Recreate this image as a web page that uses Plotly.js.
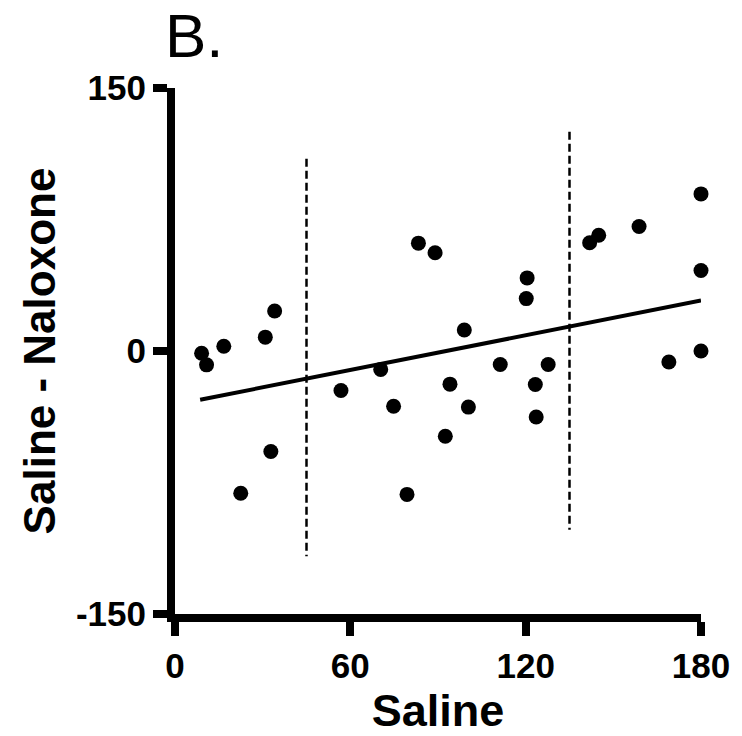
<!DOCTYPE html>
<html>
<head>
<meta charset="utf-8">
<script src="https://cdn.plot.ly/plotly-3.0.1.min.js"></script>
<style>html,body{margin:0;padding:0;background:#fff;}#chart{width:742px;height:736px;}</style>
</head>
<body>
<div id="chart"></div>
<script>
// Scatter data: Saline (x) vs Saline - Naloxone (y)
const salineX = [9.1, 10.8, 16.7, 22.5, 30.9, 32.8, 34.1, 56.8, 70.4, 74.8,
                 79.4, 83.3, 89.0, 92.5, 94.1, 99.0, 100.4, 111.3, 120.2, 120.5,
                 123.3, 123.6, 127.7, 141.9, 145.0, 158.8, 169.0, 180, 180, 180];
const diffY   = [-1.3, -7.9, 2.7, -81.1, 7.9, -57.3, 22.8, -22.5, -10.5, -31.5,
                 -81.8, 61.5, 56.0, -48.6, -18.9, 12.0, -32.0, -7.7, 29.9, 41.7,
                 -19.1, -37.6, -7.7, 61.7, 66.0, 71.0, -6.3, 0, 45.9, 89.6];
// Regression line end points
const fitX = [8.6, 180];
const fitY = [-27.8, 28.8];
// Dashed cut-off lines
const cut1X = [45, 45];
const cut1Y = [109.6, -117];
const cut2X = [135, 135];
const cut2Y = [125, -102];
// Ticks
const xTickVals = [0, 60, 120, 180];
const xTickText = ['0', '60', '120', '180'];
const yTickVals = [-150, 0, 150];
const yTickText = ['-150', '0', '150'];
const panelLabel = 'B.';

const FONT = 'Liberation Sans, Arial, Helvetica, sans-serif';

const traces = [
  {x: cut1X, y: cut1Y, mode: 'lines', line: {color: '#000', width: 2.5, dash: '8px,4px'}, hoverinfo: 'skip', showlegend: false},
  {x: cut2X, y: cut2Y, mode: 'lines', line: {color: '#000', width: 2.5, dash: '8px,4px'}, hoverinfo: 'skip', showlegend: false},
  {x: fitX, y: fitY, mode: 'lines', line: {color: '#000', width: 4}, showlegend: false},
  {x: salineX, y: diffY, mode: 'markers', marker: {color: '#000', size: 15}, cliponaxis: false, showlegend: false}
];

const axisCommon = {
  showline: true, linewidth: 8, linecolor: '#000',
  ticks: 'outside', ticklen: 14, tickwidth: 8, tickcolor: '#000',
  showgrid: false, zeroline: false,
  tickfont: {family: FONT, size: 35, color: '#000', weight: 700}
};

const layout = {
  width: 742, height: 736,
  margin: {l: 175, r: 41, t: 88, b: 122},
  paper_bgcolor: '#fff', plot_bgcolor: '#fff',
  showlegend: false,
  annotations: [{
    text: panelLabel, xref: 'paper', yref: 'paper',
    x: -0.02, xanchor: 'left', y: 1.168, yanchor: 'top',
    showarrow: false, borderpad: 0,
    font: {family: FONT, size: 62, color: '#000'}
  }],
  xaxis: Object.assign({}, axisCommon, {
    range: [0, 180], tickmode: 'array', tickvals: xTickVals, ticktext: xTickText,
    title: {text: 'Saline', standoff: 10, font: {family: FONT, size: 45, color: '#000', weight: 700}}
  }),
  yaxis: Object.assign({}, axisCommon, {
    range: [-150, 150], tickmode: 'array', tickvals: yTickVals, ticktext: yTickText,
    title: {text: 'Saline - Naloxone', standoff: 10, font: {family: FONT, size: 44, color: '#000', weight: 700}}
  })
};

Plotly.newPlot('chart', traces, layout, {displayModeBar: false, staticPlot: true});
</script>
</body>
</html>
